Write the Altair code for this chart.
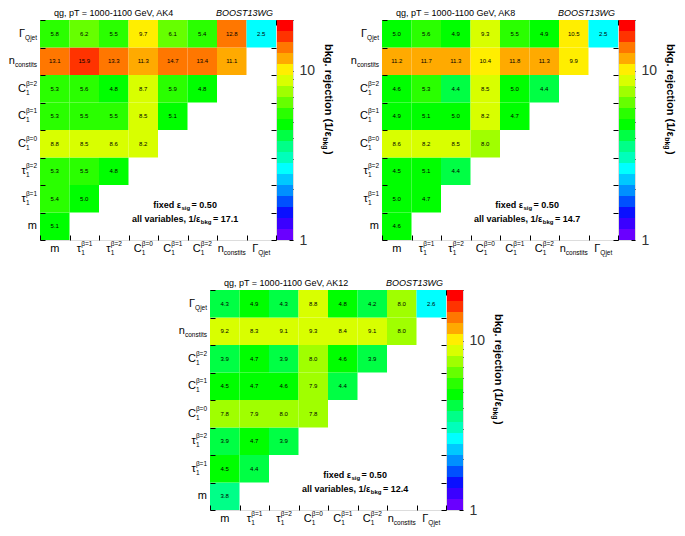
import altair as alt
import pandas as pd

FONT = "Liberation Sans"
NB = "\u00a0"

# variables (x order left->right, y order bottom->top)
VAR_KEYS = ["m", "tau1b1", "tau1b2", "C1b0", "C1b1", "C1b2", "nconst", "Gqjet"]
LABEL_BASE = ["m", "τ", "τ", "C", "C", "C", "n", "Γ"]
LABEL_SUB = ["", "1", "1", "1", "1", "1", "constits", "Qjet"]
LABEL_SUP = ["", "β=1", "β=2", "β=0", "β=1", "β=2", "", ""]

# AK4 (rows by variable, values left->right)
AK4_M = [5.1]
AK4_TAU1 = [5.4, 5.0]
AK4_TAU2 = [5.3, 5.5, 4.8]
AK4_C0 = [8.8, 8.5, 8.6, 8.2]
AK4_C1 = [5.3, 5.5, 5.5, 8.5, 5.1]
AK4_C2 = [5.3, 5.6, 4.8, 8.7, 5.9, 4.8]
AK4_N = [13.1, 15.9, 13.3, 11.3, 14.7, 13.4, 11.1]
AK4_G = [5.8, 6.2, 5.5, 9.7, 6.1, 5.4, 12.8, 2.5]

# AK8
AK8_M = [4.6]
AK8_TAU1 = [5.0, 4.7]
AK8_TAU2 = [4.5, 5.1, 4.4]
AK8_C0 = [8.6, 8.2, 8.5, 8.0]
AK8_C1 = [4.9, 5.1, 5.0, 8.2, 4.7]
AK8_C2 = [4.6, 5.3, 4.4, 8.5, 5.0, 4.4]
AK8_N = [11.2, 11.7, 11.3, 10.4, 11.8, 11.3, 9.9]
AK8_G = [5.0, 5.6, 4.9, 9.3, 5.5, 4.9, 10.5, 2.5]

# AK12
AK12_M = [3.8]
AK12_TAU1 = [4.5, 4.4]
AK12_TAU2 = [3.9, 4.7, 3.9]
AK12_C0 = [7.8, 7.9, 8.0, 7.8]
AK12_C1 = [4.5, 4.7, 4.6, 7.9, 4.4]
AK12_C2 = [3.9, 4.7, 3.9, 8.0, 4.6, 3.9]
AK12_N = [9.2, 8.3, 9.1, 9.3, 8.4, 9.1, 8.0]
AK12_G = [4.3, 4.9, 4.3, 8.8, 4.8, 4.2, 8.0, 2.6]

TITLES = ["qg, pT = 1000-1100 GeV, AK4", "qg, pT = 1000-1100 GeV, AK8", "qg, pT = 1000-1100 GeV, AK12"]
ALL_VARS = ["17.1", "14.7", "12.4"]
EPS_SIG = "0.50"

# colour palette (20 levels, bottom -> top), z range 1..20 (log)
PALETTE = ["#6a00ff", "#3a00ff", "#0a10ff", "#0050ff", "#0090ff", "#00c8ff", "#00ffff",
           "#00ffbb", "#00ff88", "#00ff44", "#00ff00", "#2aff00", "#66ff00", "#a0ff00",
           "#d8ff00", "#ffee00", "#ffaa00", "#ff7700", "#ff3300", "#ff0000"]
ZMIN, ZMAX, NLEV = 1.0, 20.0, 20
EDGES = [ZMIN * (ZMAX / ZMIN) ** (k / NLEV) for k in range(NLEV + 1)]

W, H, CB = 236, 220, 16

# ---------- text width helper ----------
REG = {' ': 278, NB: 278, '.': 278, ',': 278, '/': 278, '=': 584, '-': 333, '(': 333, ')': 333,
       'a': 556, 'b': 556, 'c': 500, 'd': 556, 'e': 556, 'f': 278, 'g': 556, 'h': 556, 'i': 222,
       'j': 222, 'k': 500, 'l': 222, 'm': 833, 'n': 556, 'o': 556, 'p': 556, 'q': 556, 'r': 333,
       's': 500, 't': 278, 'u': 556, 'v': 500, 'w': 722, 'x': 500, 'y': 500, 'z': 500,
       'C': 722, 'Q': 778, 'Γ': 556, 'τ': 450, 'β': 570, 'ε': 450}
BOLD = {' ': 278, NB: 278, '.': 278, ',': 278, '/': 278, '=': 584, '-': 333, '(': 333, ')': 333,
        'a': 556, 'b': 611, 'c': 556, 'd': 611, 'e': 556, 'f': 333, 'g': 611, 'h': 611, 'i': 278,
        'j': 278, 'k': 556, 'l': 278, 'm': 889, 'n': 611, 'o': 611, 'p': 611, 'q': 611, 'r': 389,
        's': 556, 't': 333, 'u': 611, 'v': 556, 'w': 778, 'x': 556, 'y': 556, 'z': 500, 'ε': 520}


def tw(s, size, bold=False):
    tab = BOLD if bold else REG
    tot = 0
    for ch in s:
        if ch.isdigit():
            tot += 556
        else:
            tot += tab.get(ch, 600)
    return tot * size / 1000.0


DUMMY = pd.DataFrame({"d": [0]})


def seg_layers(segs, x0, y0, anchor="left", angle=0):
    # a little extra room after each sub/superscript segment
    widths = [tw(t, s, w == "bold") + (1.5 if sh else 0) for (t, s, w, sh) in segs]
    total = sum(widths)
    start = {"left": 0, "center": -total / 2, "right": -total}[anchor]
    pos = start
    out = []
    for (t, s, w, sh), wd in zip(segs, widths):
        if angle == 0:
            x, y = x0 + pos, y0 + sh
        else:
            x, y = x0 - sh, y0 + pos
        out.append(alt.Chart(DUMMY).mark_text(
            text=t, align="left", baseline="middle", fontSize=s, fontWeight=w,
            font=FONT, angle=angle, color="black").encode(x=alt.value(x), y=alt.value(y)))
        pos += wd
    return out


Y_ORDER = list(reversed(VAR_KEYS))
LAB_DF = pd.DataFrame({"key": VAR_KEYS, "base": LABEL_BASE, "sub": LABEL_SUB, "sup": LABEL_SUP})
BASE_FS, SCR_FS = 11, 6.5


def xscale():
    return alt.Scale(domain=VAR_KEYS, paddingInner=0, paddingOuter=0)


def yscale():
    return alt.Scale(domain=Y_ORDER, paddingInner=0, paddingOuter=0)


def tick_axis(orient):
    return alt.Axis(orient=orient, labels=False, domain=False, tickBand="extent", tickSize=5,
                    offset=-5, title=None, tickColor="black", grid=False)


def label_layers():
    out = []
    for k, b, sb, sp in zip(VAR_KEYS, LABEL_BASE, LABEL_SUB, LABEL_SUP):
        wss = max(tw(sb, SCR_FS), tw(sp, SCR_FS))
        wb = tw(b, BASE_FS)
        src = alt.Chart(LAB_DF).transform_filter(alt.datum.key == k)
        yenc = dict(y=alt.Y("key:N", scale=yscale(), axis=None), x=alt.value(-3))
        out.append(src.mark_text(text=b, align="right", baseline="middle", fontSize=BASE_FS,
                                 font=FONT, dx=-wss, color="black").encode(**yenc))
        if sb:
            out.append(src.mark_text(text=sb, align="left", baseline="middle", fontSize=SCR_FS,
                                     font=FONT, dx=-wss, dy=4, color="black").encode(**yenc))
        if sp:
            out.append(src.mark_text(text=sp, align="left", baseline="middle", fontSize=SCR_FS,
                                     font=FONT, dx=-wss, dy=-5, color="black").encode(**yenc))
        total = wb + wss
        dxb = -total / 2 + wb
        xenc = dict(x=alt.X("key:N", scale=xscale(), axis=None), y=alt.value(H + 9))
        out.append(src.mark_text(text=b, align="right", baseline="middle", fontSize=BASE_FS,
                                 font=FONT, dx=dxb, color="black").encode(**xenc))
        if sb:
            out.append(src.mark_text(text=sb, align="left", baseline="middle", fontSize=SCR_FS,
                                     font=FONT, dx=dxb, dy=4, color="black").encode(**xenc))
        if sp:
            out.append(src.mark_text(text=sp, align="left", baseline="middle", fontSize=SCR_FS,
                                     font=FONT, dx=dxb, dy=-5, color="black").encode(**xenc))
    return out


def panel(rows, title, allv):
    recs = []
    for i, vals in enumerate(rows):
        for j, v in enumerate(vals):
            recs.append({"row": VAR_KEYS[i], "col": VAR_KEYS[j], "value": v})
    df = pd.DataFrame(recs)
    color = alt.Color("value:Q", scale=alt.Scale(type="threshold", domain=EDGES[1:-1], range=PALETTE),
                      legend=None)
    rect = alt.Chart(df).mark_rect().encode(
        x=alt.X("col:N", scale=xscale(), axis=tick_axis("bottom")),
        y=alt.Y("row:N", scale=yscale(), axis=tick_axis("left")),
        color=color)
    txt = alt.Chart(df).mark_text(fontSize=6, font=FONT, color="black").encode(
        x=alt.X("col:N", scale=xscale(), axis=tick_axis("top")),
        y=alt.Y("row:N", scale=yscale(), axis=tick_axis("right")),
        text=alt.Text("value:Q", format=".1f"))
    titles = [
        alt.Chart(DUMMY).mark_text(text=title, align="left", baseline="middle", fontSize=9,
                                   font=FONT, color="black").encode(x=alt.value(14), y=alt.value(-7)),
        alt.Chart(DUMMY).mark_text(text="BOOST13WG", align="right", baseline="middle", fontSize=9,
                                   font=FONT, fontStyle="italic", color="black").encode(
            x=alt.value(W - 3), y=alt.value(-7)),
    ]
    ann = seg_layers([("fixed ε", 9, "bold", 0), ("sig", 6, "bold", 3),
                      (NB + "=" + NB + EPS_SIG, 9, "bold", 0)],
                     0.62 * W, 0.84 * H, anchor="center")
    ann += seg_layers([("all variables, 1/ε", 9, "bold", 0), ("bkg", 6, "bold", 3),
                       (NB + "=" + NB + allv, 9, "bold", 0)],
                      0.62 * W, 0.905 * H, anchor="center")
    heat = alt.layer(rect, txt, *label_layers(), *titles, *ann).resolve_axis(
        x="independent", y="independent").properties(width=W, height=H)

    bins = pd.DataFrame({"lo": EDGES[:-1], "hi": EDGES[1:],
                         "mid": [(a * b) ** 0.5 for a, b in zip(EDGES[:-1], EDGES[1:])]})
    cb = alt.Chart(bins).mark_rect().encode(
        y=alt.Y("lo:Q", scale=alt.Scale(type="log", domain=[ZMIN, ZMAX], nice=False),
                axis=alt.Axis(orient="right", values=[1, 2, 3, 4, 5, 6, 7, 8, 9, 10, 20],
                              labelExpr="datum.value == 1 || datum.value == 10 ? datum.label : ''",
                              tickSize=4, offset=-4, domain=False, grid=False, title=None,
                              labelFontSize=14, labelColor="#333333", labelFont=FONT,
                              labelPadding=6, tickColor="black")),
        y2="hi:Q",
        color=alt.Color("mid:Q", scale=alt.Scale(type="threshold", domain=EDGES[1:-1], range=PALETTE),
                        legend=None))
    ztitle = seg_layers([("bkg. rejection (1/ε", 11, "bold", 0), ("bkg", 7, "bold", 3),
                         (")", 11, "bold", 0)], CB + 35, 24, anchor="left", angle=90)
    cbar = alt.layer(cb, *ztitle).properties(width=CB, height=H)
    return heat, cbar


h1, c1 = panel([AK4_M, AK4_TAU1, AK4_TAU2, AK4_C0, AK4_C1, AK4_C2, AK4_N, AK4_G], TITLES[0], ALL_VARS[0])
h2, c2 = panel([AK8_M, AK8_TAU1, AK8_TAU2, AK8_C0, AK8_C1, AK8_C2, AK8_N, AK8_G], TITLES[1], ALL_VARS[1])
h3, c3 = panel([AK12_M, AK12_TAU1, AK12_TAU2, AK12_C0, AK12_C1, AK12_C2, AK12_N, AK12_G], TITLES[2], ALL_VARS[2])


def spacer(w):
    return alt.Chart(DUMMY).mark_point(opacity=0).encode(x=alt.value(0), y=alt.value(0)).properties(
        width=w, height=10, view=alt.ViewBackground(stroke="transparent"))


row1 = alt.hconcat(h1, c1, spacer(87), h2, c2, spacing=1, bounds="flush")
row2 = alt.hconcat(spacer(169), h3, c3, spacing=1, bounds="flush")
chart = alt.vconcat(row1, row2, spacing=21).properties(
    padding=0, background="white"
).configure_view(stroke="black", strokeWidth=1).configure(font=FONT)

chart.save("out.html", embed_options={"renderer": "svg", "actions": False})
